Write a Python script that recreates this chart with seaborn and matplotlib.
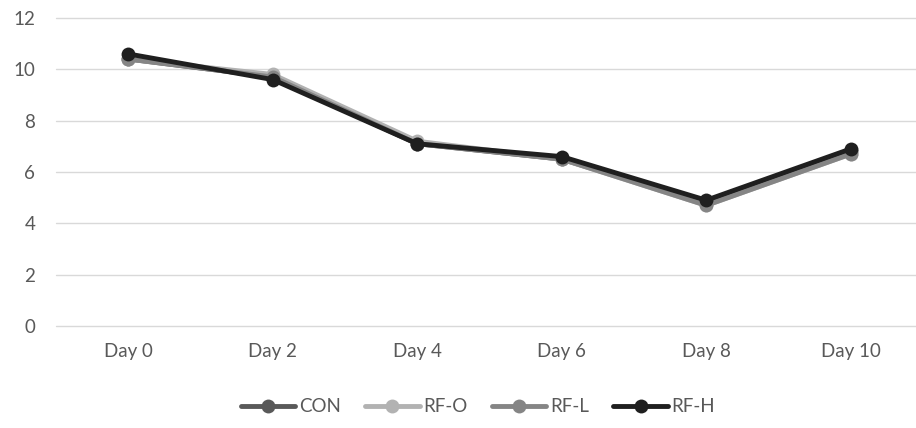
import matplotlib
matplotlib.use('Agg')
import matplotlib.pyplot as plt
import seaborn as sns
import pandas as pd

# Values
days = ['Day 0', 'Day 2', 'Day 4', 'Day 6', 'Day 8', 'Day 10']
con = [10.4, 9.7, 7.1, 6.5, 4.8, 6.8]
rf_o = [10.4, 9.8, 7.2, 6.5, 4.7, 6.7]
rf_l = [10.4, 9.7, 7.1, 6.5, 4.7, 6.7]
rf_h = [10.6, 9.6, 7.1, 6.6, 4.9, 6.9]
series = ['CON', 'RF-O', 'RF-L', 'RF-H']
colors = ['#595959', '#b2b2b2', '#858585', '#1f1f1f']

df = pd.DataFrame({'day': days * 4,
                   'value': con + rf_o + rf_l + rf_h,
                   'group': [s for s in series for _ in days]})

sns.set_style('white')
plt.rcParams['font.family'] = ['Lato', 'DejaVu Sans']

fig = plt.figure(figsize=(9.16, 4.28), dpi=100)
ax = fig.add_axes([56 / 916, 1 - 326 / 428, 867 / 916, 308 / 428])

sns.lineplot(data=df, x='day', y='value', hue='group', hue_order=series,
             palette=colors, marker='o', markersize=10, markeredgewidth=0,
             linewidth=3.5, sort=False, ax=ax)

ax.set_xlim(-0.5, 5.5)
ax.set_ylim(0, 12)
ax.set_yticks(range(0, 13, 2))
ax.yaxis.grid(True, color='#d9d9d9', linewidth=1)
for gl in ax.get_ygridlines():
    gl.set_clip_on(False)
ax.set_axisbelow(True)
for s in ax.spines.values():
    s.set_visible(False)
ax.tick_params(axis='both', length=0, labelsize=13.5, labelcolor='#595959')
ax.tick_params(axis='x', pad=12)
ax.tick_params(axis='y', pad=15)
ax.set_xlabel('')
ax.set_ylabel('')

handles, labels = ax.get_legend_handles_labels()
ax.legend(handles, labels, loc='center', bbox_to_anchor=(478 / 916, 21 / 428),
          bbox_transform=fig.transFigure, ncol=4, frameon=False,
          fontsize=13.5, labelcolor='#595959', handlelength=2.9,
          handletextpad=0.2, columnspacing=1.3)

fig.savefig('out.png', dpi=100)
